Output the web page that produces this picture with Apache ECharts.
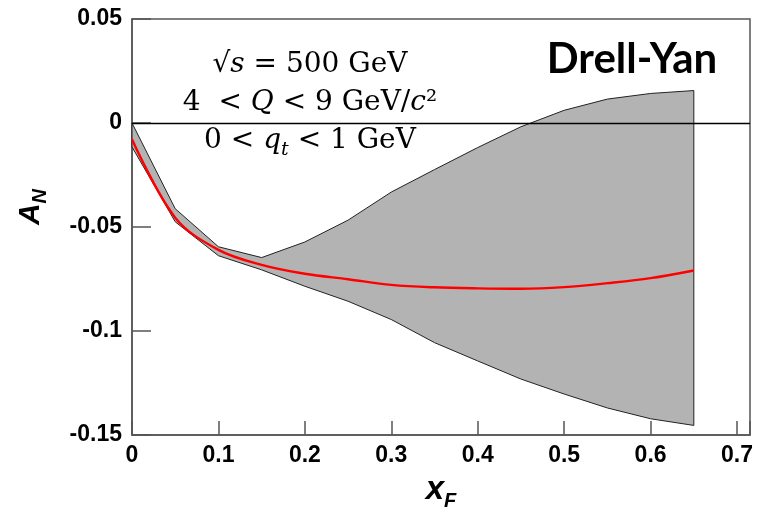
<!DOCTYPE html>
<html>
<head>
<meta charset="utf-8">
<script src="https://cdn.jsdelivr.net/npm/echarts@6/dist/echarts.min.js"></script>
<style>html,body{margin:0;padding:0;background:#fff}#c{width:760px;height:516px}</style>
</head>
<body>
<div id="c"></div>
<script>
const xF = [0, 0.05, 0.1, 0.15, 0.2, 0.25, 0.3, 0.35, 0.4, 0.45, 0.5, 0.55, 0.6, 0.65];
const bandUpper = [0.0, -0.0412, -0.0595, -0.0647, -0.0572, -0.0467, -0.0332, -0.0224, -0.0118, -0.0018, 0.0061, 0.0115, 0.0142, 0.0156];
const bandLower = [-0.0115, -0.0475, -0.0638, -0.0706, -0.0785, -0.0857, -0.0945, -0.1056, -0.1144, -0.1231, -0.1303, -0.137, -0.1422, -0.1454];
const central = [-0.0078, -0.0455, -0.061, -0.0682, -0.0725, -0.0751, -0.0778, -0.079, -0.0795, -0.0797, -0.0789, -0.077, -0.0746, -0.0709];
const xTickValues = [0, 0.1, 0.2, 0.3, 0.4, 0.5, 0.6, 0.7];
const xTickLabels = ['0', '0.1', '0.2', '0.3', '0.4', '0.5', '0.6', '0.7'];
const yTickValues = [-0.15, -0.1, -0.05, 0, 0.05];
const yTickLabels = ['-0.15', '-0.1', '-0.05', '0', '0.05'];

function lookup(vals, labels, v) {
  for (let i = 0; i < vals.length; i++) if (Math.abs(vals[i] - v) < 1e-6) return labels[i];
  return '';
}

const chart = echarts.init(document.getElementById('c'));
const axisColor = '#555';
const labelFont = { fontFamily: 'Liberation Sans', fontWeight: 'bold', fontSize: 23, color: '#000' };

chart.setOption({
  animation: false,
  grid: { left: 132, right: 10, top: 19, bottom: 78, show: true, borderColor: axisColor, borderWidth: 1.5, backgroundColor: 'transparent' },
  xAxis: {
    type: 'value', min: 0, max: 0.715, interval: 0.1,
    axisLine: { onZero: false, lineStyle: { color: axisColor, width: 1.5 } },
    axisTick: { inside: true, length: 14, lineStyle: { color: axisColor, width: 1.5 } },
    splitLine: { show: false },
    axisLabel: Object.assign({ margin: 9, formatter: v => lookup(xTickValues, xTickLabels, v) }, labelFont),
    name: '{m|x}{s|F}', nameLocation: 'middle', nameGap: 38,
    nameTextStyle: { rich: {
      m: { fontFamily: 'Liberation Sans', fontWeight: 'bold', fontStyle: 'italic', fontSize: 33, color: '#000', lineHeight: 34, verticalAlign: 'top' },
      s: { fontFamily: 'Liberation Sans', fontWeight: 'bold', fontStyle: 'italic', fontSize: 20, color: '#000', lineHeight: 20, verticalAlign: 'top', padding: [18, 0, 0, 0] }
    } }
  },
  yAxis: {
    type: 'value', min: -0.15, max: 0.05, interval: 0.05,
    axisLine: { onZero: false, lineStyle: { color: axisColor, width: 1.5 } },
    axisTick: { inside: true, length: 19, lineStyle: { color: axisColor, width: 1.5 } },
    splitLine: { show: false },
    axisLabel: Object.assign({ margin: 10, formatter: v => lookup(yTickValues, yTickLabels, v) }, labelFont),
    name: '{m|A}{s|N}', nameLocation: 'middle', nameGap: 84, nameRotate: 90,
    nameTextStyle: { padding: [0, 0, 0, 40], rich: {
      m: { fontFamily: 'Liberation Sans', fontWeight: 'bold', fontStyle: 'italic', fontSize: 30, color: '#000', lineHeight: 32, verticalAlign: 'top' },
      s: { fontFamily: 'Liberation Sans', fontWeight: 'bold', fontStyle: 'italic', fontSize: 20, color: '#000', lineHeight: 20, verticalAlign: 'top', padding: [14, 0, 0, 0] }
    } }
  },
  series: [
    {
      type: 'custom', name: 'band',
      data: xF.map((x, i) => [x, bandLower[i], bandUpper[i]]),
      encode: { x: 0, y: [1, 2] },
      renderItem: function (params, api) {
        if (params.dataIndex !== 0) return null;
        const pts = [];
        for (let i = 0; i < xF.length; i++) pts.push(api.coord([xF[i], bandUpper[i]]));
        for (let i = xF.length - 1; i >= 0; i--) pts.push(api.coord([xF[i], bandLower[i]]));
        return {
          type: 'polygon',
          shape: { points: pts },
          style: { fill: '#b3b3b3', stroke: '#222', lineWidth: 1 }
        };
      },
      z: 1
    },
    {
      type: 'line', name: 'central',
      data: xF.map((x, i) => [x, central[i]]),
      showSymbol: false, smooth: 0.35,
      lineStyle: { color: '#ff0000', width: 2.4 },
      markLine: {
        silent: true, symbol: 'none', label: { show: false },
        lineStyle: { color: '#000', width: 1.3, type: 'solid' },
        data: [{ yAxis: 0 }]
      },
      z: 3
    }
  ],
  graphic: [
    {
      type: 'text',
      style: {
        x: 310, y: 46, textAlign: 'center',
        text: '√{i|s} = 500 GeV\n4  < {i|Q} < 9 GeV/{i|c}²\n0 < {i|q}{sub|t} < 1 GeV',
        fontFamily: 'DejaVu Serif', fontSize: 28, lineHeight: 38, fill: '#000',
        rich: {
          i: { fontFamily: 'DejaVu Serif', fontStyle: 'italic', fontSize: 28, lineHeight: 38 },
          sub: { fontFamily: 'DejaVu Serif', fontStyle: 'italic', fontSize: 19, lineHeight: 19, verticalAlign: 'top', padding: [19, 0, 0, 0] }
        }
      },
      z: 10
    },
    {
      type: 'text',
      style: {
        x: 632, y: 38, textAlign: 'center',
        text: 'Drell-Yan',
        fontFamily: 'Lato', fontWeight: 'bold', fontSize: 42, fill: '#000'
      },
      z: 10
    }
  ]
});
</script>
</body>
</html>
